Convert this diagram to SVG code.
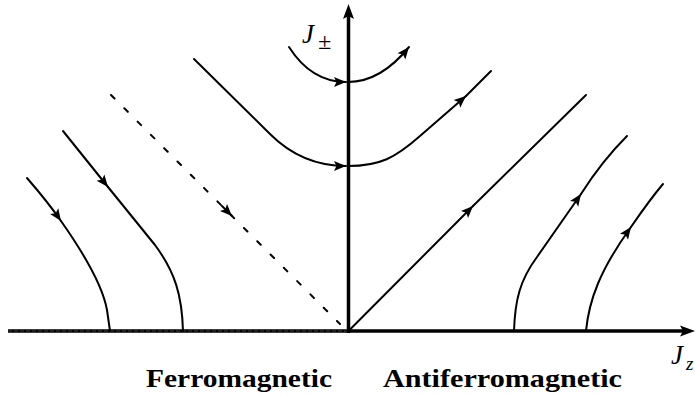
<svg xmlns="http://www.w3.org/2000/svg" width="695" height="396" viewBox="0 0 695 396">
<style>
.flow{fill:none;stroke:#000;stroke-width:2;stroke-linecap:round;stroke-linejoin:round}
.arr{marker-end:url(#a)}
.axis{fill:none;stroke:#000;stroke-width:3.5}
.lbl{font-family:"Liberation Serif","DejaVu Serif",serif;font-weight:bold;font-size:26px;fill:#000}
.math{font-family:"Liberation Serif","DejaVu Serif",serif;font-style:italic;fill:#000}
</style>
<defs>
<marker id="a" viewBox="-13 -6 14 12" refX="0" refY="0" markerWidth="14" markerHeight="12" markerUnits="userSpaceOnUse" orient="auto">
<path d="M0,0 L-12,-5 L-9.5,0 L-12,5 Z" fill="#000"/>
</marker>
</defs>
<rect width="695" height="396" fill="#fff"/>
<g id="axes">
<line class="axis" x1="8" y1="331" x2="348.5" y2="331"/>
<line x1="8" y1="331" x2="348.5" y2="331" stroke="#fff" stroke-width="0.7" stroke-opacity="0.35" stroke-dasharray="4 2"/>
<line class="axis" x1="348.5" y1="331" x2="684" y2="331"/>
<polygon points="695,331 680,325.5 683,331 680,336.5" fill="#000"/>
<line class="axis" x1="348.5" y1="333" x2="348.5" y2="16"/>
<polygon points="348.5,4 343,19 348.5,16 354,19" fill="#000"/>
</g>
<g id="connectors">
<path class="flow arr" d="M289,47 C305,72 325,82 346,82"/>
<path class="flow arr" d="M348,82 C372,82 392,68 409,47"/>
<path class="flow arr" d="M194,59 L270,134 C292,156 318,166 346,166"/>
<path class="flow arr" d="M348,166 C380,166 395,158 420,136 L466,96"/>
<path class="flow" d="M466,96 L491,71"/>
<path class="flow arr" d="M27,178 C40,193 52,208 61,221"/>
<path class="flow" d="M61,221 C80,248 102,282 107,310 L110,331"/>
<path class="flow arr" d="M63,131 L108,187"/>
<path class="flow" d="M108,187 L155,245 C175,272 182,295 183,331"/>
<path class="flow" stroke-width="2.3" stroke-linecap="butt" stroke-dasharray="5 13.8" d="M111,95 L340,324"/>
<path class="flow arr" stroke="none" d="M222,206 L232,216"/>
<path class="flow arr" d="M348.5,331 L473,206"/>
<path class="flow" d="M473,206 L586,95"/>
<path class="flow arr" d="M514,331 C515,300 520,280 537,257 L581,194"/>
<path class="flow" d="M581,194 C595,172 610,153 627,136"/>
<path class="flow arr" d="M586,331 C589,300 600,270 631,227"/>
<path class="flow" d="M631,227 C642,211 652,197 663,184"/>
</g>
<g id="label-jpm">
<text class="math" x="302" y="43" font-size="27">J</text>
<text class="math" x="318" y="49" font-size="24" font-style="normal">±</text>
</g>
<g id="label-jz">
<text class="math" x="671" y="364" font-size="27">J</text>
<text class="math" x="686" y="370" font-size="19">z</text>
</g>
<g id="label-ferro">
<text class="lbl" x="146" y="387" textLength="186" lengthAdjust="spacingAndGlyphs">Ferromagnetic</text>
</g>
<g id="label-antiferro">
<text class="lbl" x="383" y="387" textLength="239" lengthAdjust="spacingAndGlyphs">Antiferromagnetic</text>
</g>
</svg>
